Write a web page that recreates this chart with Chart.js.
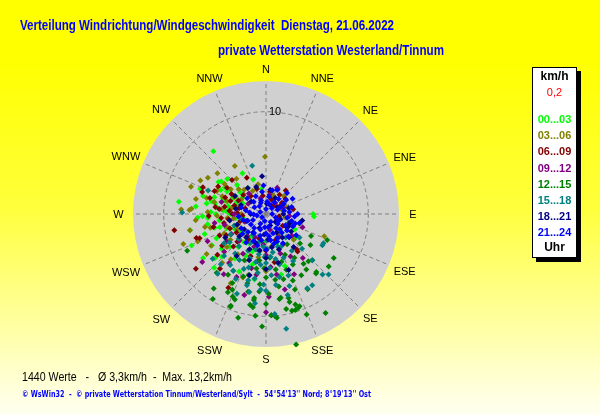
<!DOCTYPE html>
<html lang="de">
<head>
<meta charset="UTF-8">
<title>Verteilung Windrichtung/Windgeschwindigkeit</title>
<style>
    * { margin: 0; padding: 0; box-sizing: border-box; }
    body {
        width: 600px;
        height: 415px;
        overflow: hidden;
        background: linear-gradient(to bottom, #ffff00 0%, #ffff00 14%, #ffff3c 50%, #ffffa8 80%, #fffff2 100%);
    }
    #wind { display: block; }
</style>
</head>
<body>
<canvas id="wind" width="600" height="415"></canvas>

<script src="https://cdn.jsdelivr.net/npm/chart.js"></script>
<script>
    // compass labels, clockwise from north
    const directions = ['N', 'NNE', 'NE', 'ENE', 'E', 'ESE', 'SE', 'SSE',
                        'S', 'SSW', 'SW', 'WSW', 'W', 'WNW', 'NW', 'NNW'];
    const ringTicks = [10];
    const speedMax = 13;          // km/h at the rim
    const hourBands = ['00...03', '03...06', '06...09', '09...12',
                       '12...15', '15...18', '18...21', '21...24'];

    // readings: [direction in degrees, speed in km/h]
    const h00_03 = [
        [320,8.0],[306,5.4],[304,5.6],[291,6.9],[278,8.6],[280,5.9],[283,5.5],[288,5.3],[267,6.7],[258,7.6],
        [247,7.9],[224,7.3],[229,6.6],[90,4.6],[93,4.7],[129,3.5],[130,3.7],[166,6.1],[160,5.4],
        [275,4.2],[282,3.8],[290,4.5],[296,3.6],[300,4.4],[310,3.3],[285,2.9],[270,3.5],[262,4.6],[255,5.2],
        [250,4.1],[265,2.6],[272,5.4],[278,4.9],[295,2.5],[305,2.8],[315,4.0],[325,3.1],[245,3.4],[238,4.6],
        [232,5.5],[240,6.1],[252,6.3],[260,5.8],[268,6.2],[276,6.9],[286,6.4],[298,5.0],[312,5.1],[220,4.2],
        [215,5.3],[210,3.3],[225,2.7],[200,3.9],[195,5.1],[205,6.2],[340,3.6],[350,2.5],[330,4.6],[118,3.2],
        [140,2.4],[160,3.0],[185,2.8],[190,6.5],[235,7.5],
        [262,3.0],[274,3.9],[288,4.2],[300,3.4],[248,3.8],[236,3.0],[228,4.8],[218,3.5],[206,4.5],[254,4.7],
        [282,5.1],[292,3.1],[270,4.9],[244,5.4],[212,2.6],[198,2.4],[258,2.2],[303,4.8],[266,5.7],[226,6.0]
    ];
    const h03_06 = [
        [359,5.6],[327,5.6],[297,7.2],[302,6.7],[273,8.3],[273,7.5],[274,7.3],[250,8.6],[258,7.6],[236,7.0],
        [111,6.1],[60,2.0],[67,2.0],[133,3.7],[207,7.6],[19,2.0],[312,3.6],[320,4.5],[305,4.2],[295,5.3],
        [288,4.0],[280,3.4],[268,4.8],[262,3.2],[256,5.6],[245,4.5],[240,6.2],[230,5.0],[225,3.6],[285,6.0],
        [300,2.8],[330,2.6],[345,3.0],[30,1.8],[45,2.5],[75,1.6],[270,2.4],[250,2.9],[215,4.8],[200,6.6],
        [190,4.3],[180,5.6],[170,3.2],[150,2.2],[100,1.9],[290,7.8],[265,6.9],[248,7.2],[222,6.4],[310,6.2],
        [276,4.4],[283,5.2],[292,4.6],[298,3.5],[264,3.8],[252,4.0],[242,3.2],[234,4.3],[272,5.7],[306,5.0],
        [318,3.2],[286,2.6],[258,6.1],[218,5.6],[282,7.0]
    ];
    const h06_09 = [
        [260,9.1],[232,8.7],[250,6.9],[207,8.1],[332,4.0],[293,6.7],[294,5.5],[289,6.6],[251,7.2],[140,4.8],
        [139,4.6],[35,2.3],[52,2.4],[80,2.7],[20,1.5],[45,1.2],[60,1.6],[10,2.2],[350,1.8],[275,3.6],
        [280,4.1],[285,3.2],[272,2.8],[265,4.4],[290,3.7],[300,3.9],[310,2.9],[320,2.3],[278,5.0],[268,5.6],
        [258,4.2],[245,5.0],[238,3.4],[225,4.5],[215,3.0],[200,4.4],[195,2.5],[180,3.6],[170,4.8],[160,2.7],
        [150,3.4],[125,2.0],[100,1.3],[300,5.4],[315,4.7],[255,2.6],[230,6.2],[220,7.0],[285,2.1],[40,3.0],
        [270,3.3],[276,4.6],[282,2.7],[292,4.3],[262,3.7],[248,3.8],[242,4.4],[234,5.3],[296,3.0],[304,4.6],
        [286,5.7],[256,5.3],[266,2.3],[25,2.7],[55,1.9],[30,1.0],[340,2.6],[226,3.9]
    ];
    const h09_12 = [
        [233,7.8],[23,2.8],[178,8.1],[166,7.6],[180,9.6],[189,6.0],[217,6.0],[166,1.6],[200,3.4],[210,4.5],
        [220,2.8],[190,4.7],[175,5.2],[160,4.1],[150,2.6],[140,5.6],[130,3.3],[240,3.9],[250,2.2],[260,5.1],
        [270,3.1],[285,4.5],[300,2.0],[320,2.6],[340,1.6],[10,1.9],[40,1.4],[70,1.8],[95,2.3],[110,3.8],
        [228,5.5],[205,6.8],[195,8.2],[245,6.3],[215,7.2],[185,3.0],[155,6.5],[120,1.2],
        [205,2.5],[225,3.7],[235,4.7],[180,4.0],[170,6.0],[255,4.2],[195,5.5],[150,4.8]
    ];
    const h12_15 = [
        [212,9.8],[201,9.7],[188,9.2],[177,9.9],[175,10.0],[165,9.8],[160,9.6],[159,7.9],[151,8.4],[167,13.1],
        [149,11.3],[140,7.6],[113,6.5],[131,4.4],[106,3.4],[143,6.1],[138,6.2],[135,6.4],[245,8.5],[116,4.9],
        [123,7.9],[130,8.0],[139,7.5],[147,5.1],[144,6.7],[162,9.3],[161,9.7],[163,9.8],[165,8.5],[165,8.9],
        [168,9.5],[171,8.4],[174,10.2],[177,9.9],[185,7.6],[188,8.3],[193,7.8],[188,8.5],[190,9.0],[201,9.6],
        [204,8.1],[202,8.7],[206,8.5],[170,5.5],[180,6.2],[190,5.4],[200,6.5],[175,4.3],[160,5.8],[155,4.4],
        [150,6.9],[185,6.9],[195,7.0],[210,6.4],[220,7.5],[170,7.2],[178,7.8],[165,6.6],[145,3.6],[125,5.3],
        [190,3.7],[205,5.0],[215,8.9],[182,11.0],[158,10.6],[195,10.5],
        [172,6.5],[182,5.3],[196,6.2],[206,7.5],[188,4.6],[162,4.9],[152,5.6],[200,8.9],[180,8.8],[170,8.3],
        [212,7.0],[158,7.0],[186,10.0]
    ];
    const h15_18 = [
        [344,4.9],[292,6.1],[271,8.2],[170,11.4],[134,8.5],[119,6.3],[117,6.3],[137,8.1],[151,8.3],[147,8.3],
        [175,9.8],[180,7.5],[195,7.2],[195,6.7],[219,7.5],[134,4.9],[135,6.4],[185,3.2],[190,4.0],[200,4.6],
        [210,5.2],[220,4.1],[228,3.6],[235,5.0],[215,6.1],[205,7.0],[198,5.5],[188,5.8],[180,4.8],[175,6.0],
        [170,3.8],[165,5.1],[160,6.4],[155,3.5],[150,5.3],[145,4.4],[140,3.0],[182,6.9],[192,7.8],[208,3.2],
        [225,5.8],[240,4.0],[250,3.3],[230,6.8],[172,7.0],[162,7.4],[168,4.5],[178,2.6],[195,2.9],[212,2.4],
        [200,8.3],[187,8.8],[165,8.2],[125,4.0],[110,2.4],[260,2.5],
        [182,4.2],[192,4.8],[202,5.8],[186,5.0],[176,5.3],[168,6.3],[206,4.0],[218,4.9],[196,3.6],[174,4.2],
        [158,4.6],[184,7.4],[210,6.4],[222,6.6],[232,4.5],[190,6.4],[178,3.4],[160,3.4]
    ];
    const h18_21 = [
        [354,3.7],[108,2.5],[119,2.5],[112,2.5],[122,2.3],[158,5.9],[166,4.9],[340,2.8],[10,2.4],[30,1.8],
        [60,1.3],[90,1.7],[135,3.2],[150,2.1],[170,3.3],[185,2.0],[200,3.0],[215,2.2],[230,3.4],[250,2.0],
        [270,1.5],[290,2.6],[310,1.9],[325,3.1],[200,4.8],[180,5.4],[140,4.2],[240,4.6],[260,3.6],[5,1.0],
        [100,3.6],[195,6.2],[215,5.0],[160,1.2],[280,3.0],[300,3.5],
        [175,2.5],[190,3.6],[205,3.8],[220,3.0],[160,3.7],[145,2.8],[125,3.0],[110,1.5],[235,2.6],[250,3.0],
        [205,1.5],[180,4.3],[130,1.2],[75,2.3]
    ];
    const h21_24 = [
        [0,0.5],[20,1.0],[45,0.8],[70,1.2],[90,0.6],[110,1.0],[130,1.5],[150,0.9],[170,1.3],[190,0.7],
        [210,1.1],[230,0.5],[260,0.9],[290,0.6],[320,1.0],[340,1.4],[10,1.7],[40,1.9],[60,2.0],[80,1.8],
        [100,2.1],[120,2.2],[140,2.4],[160,2.0],[180,1.9],[200,1.6],[220,1.8],[245,1.4],[275,1.6],[300,1.3],
        [330,2.0],[350,2.2],[115,2.9],[135,3.1],[150,3.3],[165,3.0],[190,2.6],[205,2.9],[225,2.5],[95,2.8],
        [75,2.6],[55,2.4],[25,2.6],[355,2.8],[310,2.4],[285,2.5],[255,2.3],[240,2.8],[180,3.5],[125,3.6],
        [105,3.4],[145,1.7],[60,3.0],[170,2.6],[215,3.4],
        [5,1.2],[35,1.4],[65,1.6],[85,2.3],[105,2.6],[118,1.4],[138,2.0],[155,2.6],[172,2.2],[185,1.3],
        [195,2.2],[212,2.2],[235,1.8],[250,1.9],[268,1.2],[280,2.0],[315,1.7],[335,1.2],[108,3.0],[128,2.6],
        [158,2.9],[195,3.2],[90,3.1],[45,2.9],[15,2.4],[230,3.0],[265,2.7]
    ];
    const series = [h00_03, h03_06, h06_09, h09_12, h12_15, h15_18, h18_21, h21_24];
    const bandColors = ['#00ff00', '#808000', '#800000', '#800080',
                        '#008000', '#008080', '#000080', '#0000ff'];

    const rad = d => d * Math.PI / 180;

    // gray disc, dashed spokes and ring, labels, legend and footer
    const windRose = {
        id: 'windRose',
        beforeDatasetsDraw(chart) {
            const { ctx, scales: { x, y } } = chart;
            const cx = x.getPixelForValue(0), cy = y.getPixelForValue(0);
            const r = x.getPixelForValue(speedMax) - cx;
            ctx.save();
            ctx.fillStyle = '#d0d0d0';
            ctx.beginPath();
            ctx.arc(cx, cy, r, 0, Math.PI * 2);
            ctx.fill();

            ctx.strokeStyle = '#808080';
            ctx.lineWidth = 1;
            ctx.setLineDash([4, 3]);
            directions.forEach((d, i) => {
                const a = rad(i * 22.5);
                ctx.beginPath();
                ctx.moveTo(cx, cy);
                ctx.lineTo(x.getPixelForValue(speedMax * Math.sin(a)), y.getPixelForValue(speedMax * Math.cos(a)));
                ctx.stroke();
            });
            ringTicks.forEach(t => {
                const rr = x.getPixelForValue(t) - cx;
                ctx.beginPath();
                ctx.arc(cx, cy, rr, 0, Math.PI * 2);
                ctx.stroke();
            });
            ctx.restore();
        },
        afterDraw(chart) {
            const { ctx, scales: { x, y } } = chart;
            const cx = x.getPixelForValue(0), cy = y.getPixelForValue(0);
            const r = x.getPixelForValue(speedMax) - cx;
            ctx.save();

            // ring value
            ctx.fillStyle = '#000';
            ctx.font = '11px "Liberation Sans", Arial, sans-serif';
            ctx.textBaseline = 'middle';
            ctx.textAlign = 'left';
            ringTicks.forEach(t => {
                ctx.fillText(String(t), cx + 3, y.getPixelForValue(t));
            });

            // compass labels
            ctx.textAlign = 'center';
            directions.forEach((d, i) => {
                const a = rad(i * 22.5);
                const w = ctx.measureText(d).width;
                const lr = r + 12 + 0.25 * w * Math.abs(Math.sin(a));
                ctx.fillText(d, cx + lr * Math.sin(a), cy - lr * Math.cos(a) + 1);
            });

            // titles
            ctx.textAlign = 'left';
            ctx.textBaseline = 'alphabetic';
            ctx.fillStyle = '#0000ff';
            ctx.font = 'bold 14px "Liberation Sans", Arial, sans-serif';
            ctx.fillText('Verteilung Windrichtung/Windgeschwindigkeit  Dienstag, 21.06.2022', 20, 30, 374);
            ctx.fillText('private Wetterstation Westerland/Tinnum', 218, 55, 226);

            // legend box
            const bx = 532, by = 67, bw = 45, bh = 191;
            ctx.fillStyle = '#000';
            ctx.fillRect(bx + 4, by + 4, bw, bh);
            ctx.fillStyle = '#fff';
            ctx.fillRect(bx, by, bw, bh);
            ctx.strokeStyle = '#000';
            ctx.lineWidth = 1;
            ctx.strokeRect(bx + 0.5, by + 0.5, bw - 1, bh - 1);

            const mx = bx + bw / 2;
            ctx.textAlign = 'center';
            ctx.textBaseline = 'middle';
            ctx.fillStyle = '#000';
            ctx.font = 'bold 12px "Liberation Sans", Arial, sans-serif';
            ctx.fillText('km/h', mx, 77);
            ctx.fillStyle = '#ff0000';
            ctx.font = '11px "Liberation Sans", Arial, sans-serif';
            ctx.fillText('0,2', mx, 93);
            ctx.font = 'bold 11px "Liberation Sans", Arial, sans-serif';
            hourBands.forEach((b, i) => {
                ctx.fillStyle = bandColors[i];
                ctx.fillText(b, mx, 120 + i * 16.2, 34);
            });
            ctx.fillStyle = '#000';
            ctx.font = 'bold 12px "Liberation Sans", Arial, sans-serif';
            ctx.fillText('Uhr', mx, 248);

            // footer
            ctx.textAlign = 'left';
            ctx.textBaseline = 'alphabetic';
            ctx.fillStyle = '#000';
            ctx.font = '12px "Liberation Sans", Arial, sans-serif';
            ctx.fillText('1440 Werte   -   \u00d8 3,3km/h  -  Max. 13,2km/h', 22, 381, 210);
            ctx.fillStyle = '#0000ff';
            ctx.font = 'bold 8px "DejaVu Sans", sans-serif';
            ctx.fillText('\u00a9 WsWin32  -  \u00a9 private Wetterstation Tinnum/Westerland/Sylt  -  54\u00b054\'13\'\' Nord; 8\u00b019\'13\'\' Ost', 22, 397, 349);
            ctx.restore();
        }
    };

    const datasets = series.map((pts, i) => ({
        label: hourBands[i],
        data: pts.map(([dir, spd]) => ({ x: spd * Math.sin(rad(dir)), y: spd * Math.cos(rad(dir)) })),
        backgroundColor: bandColors[i],
        borderColor: bandColors[i],
        borderWidth: 0,
        pointStyle: 'rectRot',
        pointRadius: 3,
        order: series.length - 1 - i      // later hours drawn on top
    }));

    new Chart(document.getElementById('wind'), {
        type: 'scatter',
        data: { datasets },
        options: {
            responsive: false,
            animation: false,
            layout: { padding: { left: 133, right: 201, top: 81, bottom: 68 } },
            scales: {
                x: { type: 'linear', min: -speedMax, max: speedMax, display: false },
                y: { type: 'linear', min: -speedMax, max: speedMax, display: false }
            },
            plugins: {
                legend: { display: false },
                tooltip: { enabled: false }
            }
        },
        plugins: [windRose]
    });
</script>
</body>
</html>
